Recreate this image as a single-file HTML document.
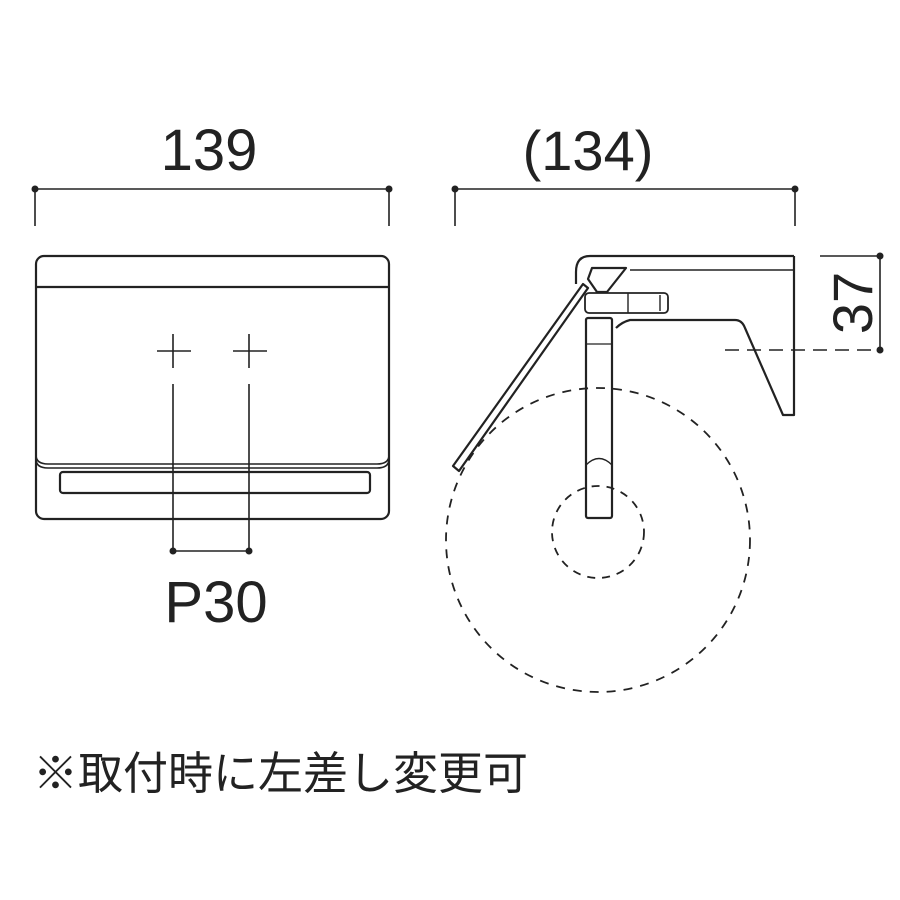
<!DOCTYPE html>
<html><head><meta charset="utf-8"><style>
html,body{margin:0;padding:0;background:#fff;}
svg{display:block;}
</style></head><body>
<svg width="900" height="900" viewBox="0 0 900 900" xmlns="http://www.w3.org/2000/svg">
<g fill="none" stroke="#222" stroke-width="2.2" stroke-linejoin="round">
<!-- front view -->
<rect x="36" y="256" width="353" height="263" rx="8"/>
<line x1="36" y1="287" x2="389" y2="287"/>
<path d="M36 455 Q36 464 48 464 L377 464 Q389 464 389 455" stroke-width="1.6"/>
<path d="M36 459 Q36 468 48 468 L377 468 Q389 468 389 459" stroke-width="1.6"/>
<rect x="60" y="472" width="310" height="21" rx="3"/>
<g stroke-width="1.6">
<line x1="157" y1="351" x2="191" y2="351"/><line x1="173" y1="334" x2="173" y2="368"/>
<line x1="233" y1="351" x2="267" y2="351"/><line x1="249" y1="334" x2="249" y2="368"/>
<line x1="173" y1="384" x2="173" y2="551"/><line x1="249" y1="384" x2="249" y2="551"/>
<line x1="173" y1="551" x2="249" y2="551"/>
<!-- dims -->
<line x1="35" y1="189" x2="389" y2="189"/>
<line x1="35" y1="189" x2="35" y2="226"/><line x1="389" y1="189" x2="389" y2="226"/>
<line x1="455" y1="189" x2="795" y2="189"/>
<line x1="455" y1="189" x2="455" y2="226"/><line x1="795" y1="189" x2="795" y2="226"/>
<line x1="880" y1="256" x2="880" y2="350"/>
<line x1="820" y1="256" x2="880" y2="256"/>
<line x1="725" y1="350" x2="880" y2="350" stroke-dasharray="14,8"/>
</g>
<!-- side view -->
<path d="M794 256 L590 256 Q576 256 576 272 L576 284"/>
<path d="M630 270 L794 270" stroke-width="1.6"/>
<path d="M794 256 L794 415 L783 415 L745 328 Q742 320 735 320 L630 320 Q622 322 616 328"/>
<path d="M592 268 L626 268 L607 292 L597 292 L588 279 Z"/>
<rect x="585" y="293" width="83" height="20" rx="4" stroke-width="1.8"/>
<line x1="628" y1="293" x2="628" y2="313" stroke-width="1.4"/>
<line x1="660" y1="295" x2="660" y2="311" stroke-width="1.4"/>
<rect x="586" y="318" width="26" height="200" rx="2"/>
<line x1="586" y1="344" x2="612" y2="344" stroke-width="1.2"/>
<path d="M586 465 Q599 452 612 465" stroke-width="1.4"/>
<!-- arm -->
<path d="M583 284 L588 288 L459 471 L453 466 Z"/>
<!-- circles -->
<circle cx="598" cy="540" r="152" stroke-width="1.8" stroke-dasharray="9,8"/>
<circle cx="598" cy="532" r="46" stroke-width="1.8" stroke-dasharray="8,7"/>
</g>
<g fill="#222">
<circle cx="35" cy="189" r="3.5"/><circle cx="389" cy="189" r="3.5"/>
<circle cx="455" cy="189" r="3.5"/><circle cx="795" cy="189" r="3.5"/>
<circle cx="173" cy="551" r="3.5"/><circle cx="249" cy="551" r="3.5"/>
<circle cx="880" cy="256" r="3.5"/><circle cx="880" cy="350" r="3.5"/>
</g>
<g font-family="'Liberation Sans', sans-serif" fill="#222" text-anchor="middle">
<text x="209" y="170" font-size="58">139</text>
<text x="588" y="170" font-size="56">(134)</text>
<text x="216" y="622" font-size="58">P30</text>
<text transform="translate(872,303) rotate(-90)" font-size="56">37</text>
</g>
<text x="33" y="789" font-family="'Liberation Sans','Noto Sans CJK JP',sans-serif" font-size="45" fill="#222">※取付時に左差し変更可</text>
</svg>
</body></html>
